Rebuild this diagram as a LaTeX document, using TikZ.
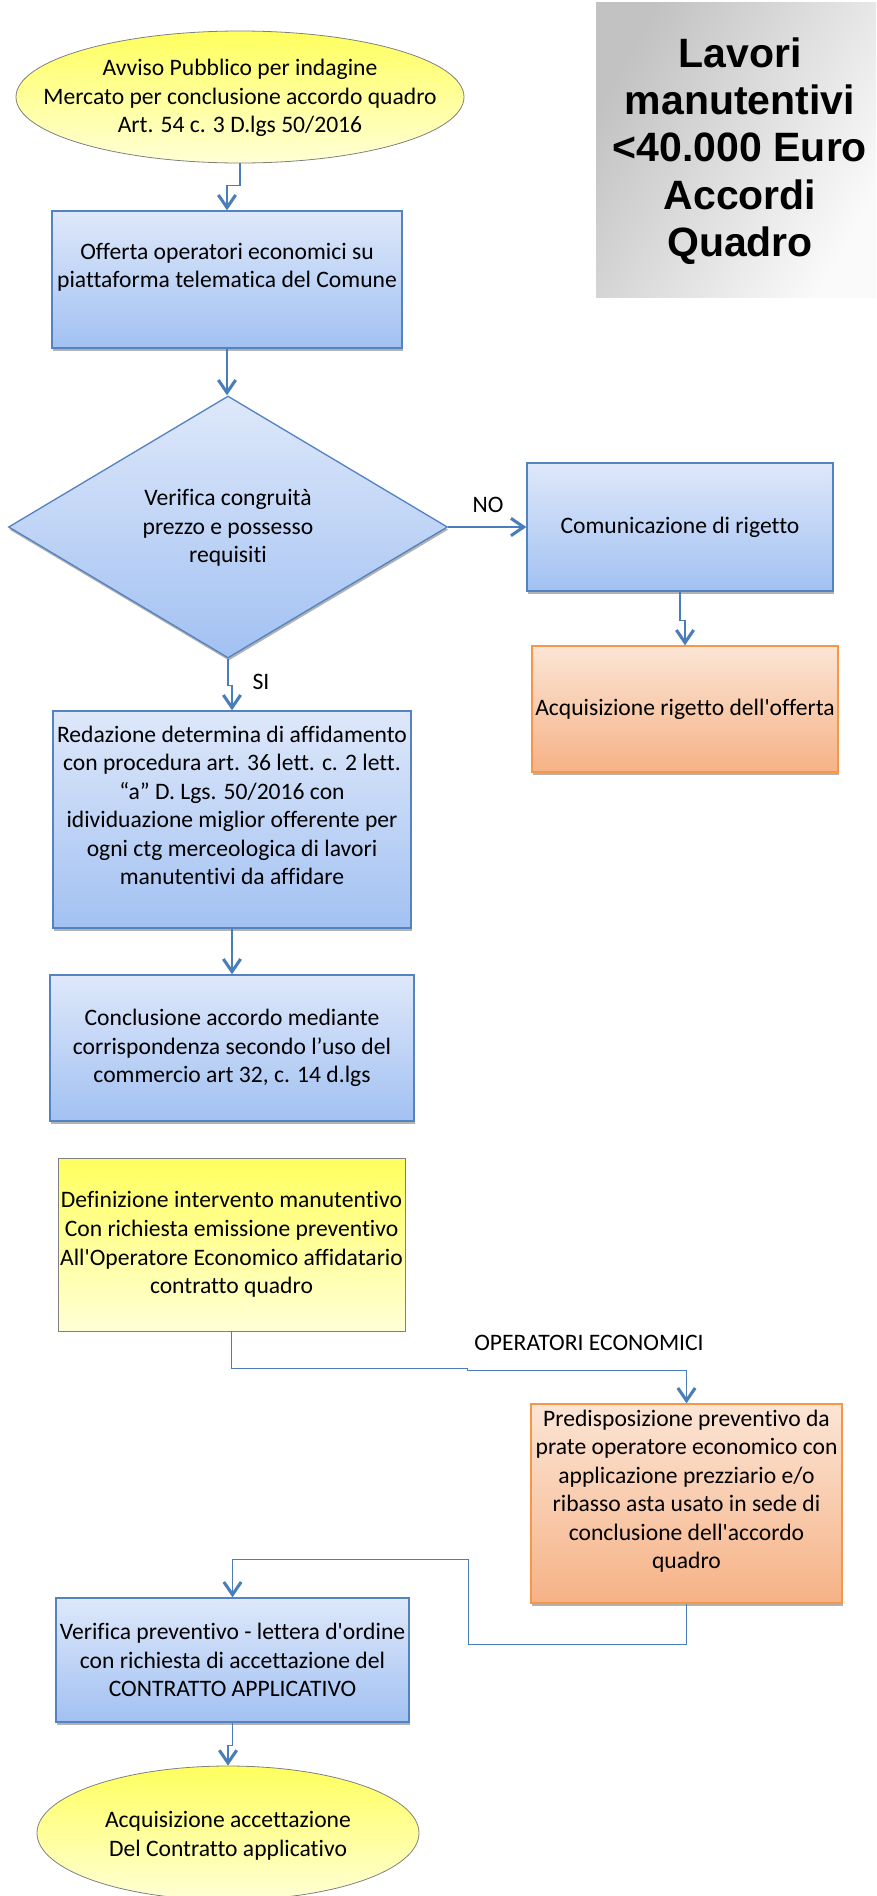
\documentclass[tikz,border=0pt]{standalone}
\usepackage{fontspec}
\newfontfamily\plain{Carlito}[RawFeature=-liga]
\newfontfamily\titlefont{Liberation Sans}
\usetikzlibrary{shapes.geometric,arrows.meta,shadows}
\definecolor{bluetop}{HTML}{DEE8FA}
\definecolor{bluebot}{HTML}{A2C1F2}
\definecolor{boxblue}{HTML}{5583C0}
\definecolor{lineblue}{HTML}{4A7EBB}
\definecolor{orangetop}{HTML}{FBE5D5}
\definecolor{orangebot}{HTML}{F6B286}
\definecolor{orangeline}{HTML}{F79646}
\definecolor{yellowtop}{HTML}{FFFF5E}
\definecolor{yellowbot}{HTML}{FFFFD6}
\begin{document}
\begin{tikzpicture}[x=0.75pt,y=-0.75pt,
  every node/.style={font=\plain\fontsize{17.7}{21.4}\selectfont, align=center, inner sep=0pt, text=black},
  shad/.style={drop shadow={shadow xshift=0.6pt, shadow yshift=-2pt, fill=black!55, opacity=.55}},
  bluefill/.style={draw=boxblue, line width=1pt, top color=bluetop, bottom color=bluebot, shad},
  bluebox/.style={rectangle, bluefill},
  orangebox/.style={rectangle, draw=orangeline, line width=1pt, top color=orangetop, bottom color=orangebot, shad},
  yellowfill/.style={draw=black!50, line width=0.6pt, top color=yellowtop, bottom color=yellowbot},
  titlebox/.style={rectangle, draw=none, left color=black!24, right color=black!2, shading angle=60},
  titletext/.style={font=\titlefont\bfseries\fontsize{30.75}{35.5}\selectfont},
  conn/.style={draw=lineblue, line width=1.1pt, -{Straight Barb[length=9.5pt,width=13pt,line width=2.3pt]}},
  lbl/.style={font=\plain\fontsize{17.7}{21.4}\selectfont}
]
\useasboundingbox (0,0) rectangle (876,1896);

% title
\node[titlebox, minimum width=210pt, minimum height=221.25pt] (title) at (736,149.5) {};
\node[titletext] (titletxt) at (740,151) {Lavori\\manutentivi\\<40.000 Euro\\Accordi\\Quadro};

% top ellipse
\node[ellipse, yellowfill, minimum width=336pt, minimum height=99pt] (e1) at (240,97) {};
\node (e1t) at (240,98) {Avviso Pubblico per indagine\\Mercato per conclusione accordo quadro\\Art. 54 c. 3 D.lgs 50/2016};

% box 1
\node[bluebox, minimum width=262.5pt, minimum height=102.75pt] (b1) at (227,279.5)
  {Offerta operatori economici su\\piattaforma telematica del Comune\\\mbox{}};

% diamond
\node[bluefill, diamond, minimum width=329.25pt, minimum height=196.5pt] (d1) at (228,527) {};
\node (d1t) at (228,528) {Verifica congruità\\prezzo e possesso\\requisiti};

% comunicazione
\node[bluebox, minimum width=229.5pt, minimum height=96pt] (com) at (680,527) {Comunicazione di rigetto};

% acquisizione rigetto
\node[orangebox, minimum width=229.5pt, minimum height=94.5pt] (acq) at (685,709) {Acquisizione rigetto dell'offerta};

% box 3
\node[bluebox, minimum width=268.5pt, minimum height=162.75pt] (b3) at (232,819.5)
  {Redazione determina di affidamento\\con procedura art. 36 lett. c. 2 lett.\\“a” D. Lgs. 50/2016 con\\idividuazione miglior offerente per\\ogni ctg merceologica di lavori\\manutentivi da affidare\\\mbox{}};

% box 4
\node[bluebox, minimum width=273pt, minimum height=109.5pt] (b4) at (232,1048)
  {Conclusione accordo mediante\\corrispondenza secondo l’uso del\\commercio art 32, c. 14 d.lgs};

% yellow box
\node[rectangle, yellowfill, minimum width=260.25pt, minimum height=129.75pt] (yb) at (231.5,1244.5)
  {Definizione intervento manutentivo\\Con richiesta emissione preventivo\\All'Operatore Economico affidatario\\contratto quadro};

% orange box 2
\node[orangebox, minimum width=233.25pt, minimum height=149.25pt] (acq2) at (686.5,1503.5)
  {Predisposizione preventivo da\\prate operatore economico con\\applicazione prezziario e/o\\ribasso asta usato in sede di\\conclusione dell'accordo\\quadro\\\mbox{}};

% verifica
\node[bluebox, minimum width=264.75pt, minimum height=93pt] (ver) at (232.5,1660)
  {Verifica preventivo - lettera d'ordine\\con richiesta di accettazione del\\CONTRATTO APPLICATIVO};

% bottom ellipse
\node[ellipse, yellowfill, minimum width=286.5pt, minimum height=100.5pt] (e2) at (228,1833) {};
\node (e2t) at (228,1836) {Acquisizione accettazione\\Del Contratto applicativo};

% labels
\node[lbl] (lno) at (488,505) {NO};
\node[lbl] (lsi) at (261,682) {SI};
\node[lbl] (lop) at (589,1343) {OPERATORI ECONOMICI};

% connectors
\draw[conn] (e1.south) -- ++(0,22) -| (b1.north);
\draw[conn] (b1.south) -- (b1.south |- d1.north);
\draw[conn] (d1.east) -- (com.west);
\draw[conn] (com.south) -- ++(0,29) -| (acq.north);
\draw[conn] (d1.south) -- ++(0,27) -| (b3.north);
\draw[conn] (b3.south) -- (b4.north);
\draw[conn] (yb.south) -- ++(0,37) -- ++(236,0) -- ++(0,2) -| (acq2.north);
\draw[conn] (acq2.south) -- ++(0,41) -| ++(-218,-85) -| (ver.north);
\draw[conn] (ver.south) -- ++(0,23) -| (e2.north);
\end{tikzpicture}
\end{document}
